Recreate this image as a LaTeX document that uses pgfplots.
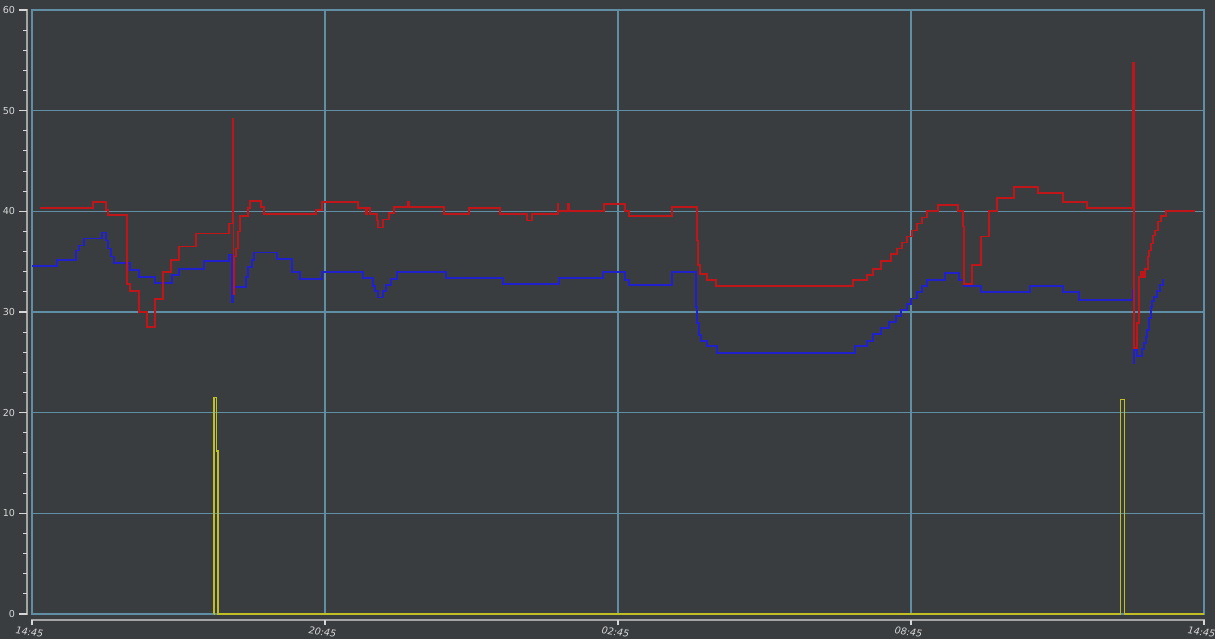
\documentclass[border=0pt]{standalone}
\usepackage{pgfplots}
\pgfplotsset{compat=1.18}
\usepackage{fontspec}
\setmainfont{DejaVu Sans}

\definecolor{bg}{RGB}{58,61,64}
\definecolor{gridc}{RGB}{96,142,164}
\definecolor{axgray}{RGB}{165,165,165}
\definecolor{tickc}{RGB}{215,215,215}
\definecolor{sred}{RGB}{192,22,26}
\definecolor{sblue}{RGB}{32,32,205}
\definecolor{syel}{RGB}{192,192,36}

\begin{document}
\begin{tikzpicture}
% page background and size (axis box is 879pt x 453pt at the origin)
\fill[bg] (-24pt,-18.75pt) rectangle (887.25pt,460.5pt);
\path[use as bounding box] (-24pt,-18.75pt) rectangle (887.25pt,460.5pt);
% gray axis lines set off from the plot frame (7.55pt per unit, 36.625pt per hour)
\fill[axgray] (-4.6pt,-0.5pt) rectangle (-3.0pt,453.5pt);
\fill[axgray] (-0.5pt,-5.3pt) rectangle (879.5pt,-3.7pt);
\foreach \v in {0,2,...,60}
  \fill[tickc] (-7.0pt,\v*7.55pt-0.4pt) rectangle (-4.0pt,\v*7.55pt+0.4pt);
\foreach \v in {0,10,...,60}
  \fill[tickc] (-9.6pt,\v*7.55pt-0.4pt) rectangle (-4.0pt,\v*7.55pt+0.4pt);
\foreach \h in {0,6,...,24}
  \fill[tickc] (\h*36.625pt-0.4pt,-4.6pt) rectangle (\h*36.625pt+0.4pt,-8.4pt);
\begin{axis}[
  at={(0pt,0pt)}, anchor=south west,
  scale only axis, width=879pt, height=453pt,
  xmin=0, xmax=24, ymin=0, ymax=60,
  axis background/.style={fill=bg},
  axis line style={gridc, line width=1pt},
  xtick={0,6,12,18,24}, ytick={0,10,...,60},
  xticklabels={14:45,20:45,02:45,08:45,14:45},
  major tick length=0pt,
  grid=major, major grid style={gridc, line width=1pt},
  yticklabel style={font=\fontsize{7.2}{8}\selectfont, text=tickc,
    xshift=-9.2pt, /pgf/number format/assume math mode=true},
  xticklabel style={rotate=-8, anchor=north, yshift=-7.4pt, text=tickc,
    font=\itshape\fontsize{7.2}{8}\selectfont},
  clip=false,
  const plot,
]
% yellow
\addplot[syel, line width=1.3pt] coordinates {
(3.720,0) (3.727,21.5) (3.780,16.2) (3.815,0) (22.290,21.3) (22.370,0) (24,0)
};

% blue
\addplot[sblue, line width=1.3pt] coordinates {
(0,34.56) (0.518,35.15) (0.901,36.1) (0.969,36.6) (1.071,37.3) (1.427,37.9)
(1.509,37.1) (1.550,36.3) (1.612,35.5) (1.679,34.9) (2.007,34.2) (2.191,33.5)
(2.519,32.9) (2.861,33.7) (3.016,34.3) (3.522,35.1) (4.028,35.7) (4.096,31.0)
(4.126,32.5) (4.382,33.5) (4.423,34.5) (4.499,35.2) (4.552,35.9) (5.011,35.25)
(5.324,34.0) (5.488,33.3) (5.939,34.0) (6.772,33.4) (6.977,32.6) (7.030,32.1)
(7.092,31.45) (7.182,32.1) (7.249,32.7) (7.352,33.3) (7.481,34.0) (8.478,33.4)
(9.651,32.8) (10.798,33.4) (11.699,34.0) (12.143,33.2) (12.232,32.7) (13.106,34.0)
(13.591,30.5) (13.624,28.9) (13.659,27.7) (13.694,27.1) (13.817,26.6) (14.021,25.95)
(16.853,26.6) (17.105,27.1) (17.228,27.8) (17.380,28.4) (17.556,29.0) (17.693,29.6)
(17.789,30.2) (17.912,30.8) (17.994,31.35) (18.117,32.0) (18.219,32.6) (18.334,33.2)
(18.696,33.9) (18.983,33.2) (19.092,32.6) (19.427,32.0) (20.437,32.6) (21.107,32.0)
(21.440,31.2) (22.540,32.2) (22.557,24.9) (22.577,26.2) (22.622,25.6) (22.737,26.3)
(22.771,26.9) (22.806,27.5) (22.839,28.2) (22.874,29.4) (22.909,30.5) (22.942,31.1)
(22.983,31.5) (23.032,32.1) (23.100,32.7) (23.167,33.2) (23.181,33.2)
};

% red
\addplot[sred, line width=1.3pt] coordinates {
(0.164,40.3) (1.255,40.9) (1.515,40.1) (1.562,39.6) (1.939,32.8) (2.007,32.1)
(2.191,30.0) (2.361,28.5) (2.525,31.3) (2.689,34.0) (2.853,35.2) (3.016,36.5)
(3.352,37.8) (4.028,38.8) (4.110,49.2) (4.126,31.8) (4.147,35.5) (4.178,36.3)
(4.218,38.0) (4.259,39.5) (4.417,40.3) (4.464,41.0) (4.683,40.4) (4.751,39.7)
(5.816,40.1) (5.939,40.9) (6.682,40.3) (6.840,39.7) (6.860,40.3) (6.922,39.7)
(7.059,39.1) (7.092,38.4) (7.194,39.2) (7.311,39.8) (7.419,40.4) (7.700,40.9)
(7.720,40.4) (8.443,39.7) (8.949,40.3) (9.584,39.7) (10.131,39.1) (10.233,39.7)
(10.765,40.7) (10.782,40.05) (10.976,40.7) (10.997,40.05) (11.720,40.7) (12.143,40.05)
(12.232,39.5) (13.106,40.45) (13.612,37.1) (13.645,34.7) (13.679,33.8) (13.817,33.2)
(14.001,32.6) (16.806,33.2) (17.093,33.7) (17.216,34.3) (17.380,35.1) (17.584,35.75)
(17.707,36.3) (17.810,36.9) (17.912,37.5) (18.015,38.1) (18.117,38.8) (18.219,39.4)
(18.334,40.0) (18.560,40.6) (18.969,40.0) (19.072,38.5) (19.092,32.8) (19.256,34.7)
(19.427,37.5) (19.597,40.05) (19.768,41.3) (20.109,42.4) (20.607,41.8) (21.107,40.9)
(21.599,40.3) (22.553,54.7) (22.573,26.4) (22.622,28.9) (22.669,33.5) (22.704,34.0)
(22.757,33.5) (22.792,34.3) (22.847,35.5) (22.880,36.1) (22.915,36.8) (22.949,37.6)
(22.997,38.1) (23.052,39.0) (23.120,39.5) (23.222,40.05) (23.816,40.05)
};
\end{axis}
\end{tikzpicture}
\end{document}
